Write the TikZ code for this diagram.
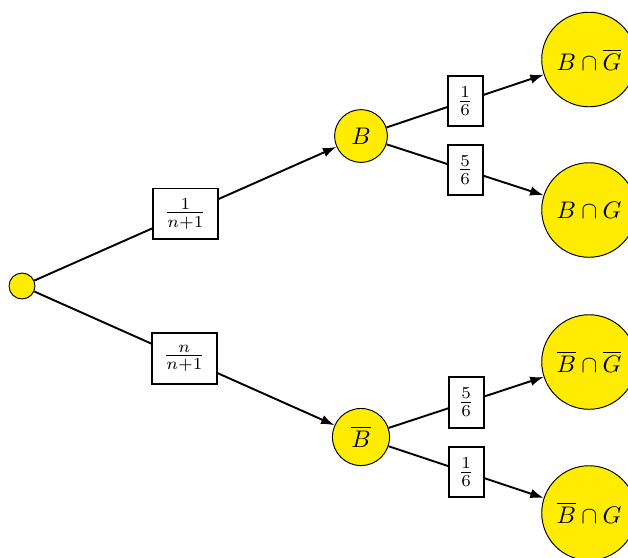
\documentclass[tikz,border=0pt]{standalone}
\usetikzlibrary{arrows.meta}
\definecolor{nodeyellow}{RGB}{255,236,0}
\begin{document}
\begin{tikzpicture}[x=0.4167pt,y=-0.4167pt,
  dot/.style={circle,draw,fill=nodeyellow,inner sep=0pt,minimum size=10.8pt},
  mid/.style={circle,draw,fill=nodeyellow,inner sep=0pt,minimum size=#1},
  leaf/.style={circle,draw,fill=nodeyellow,inner sep=0pt,minimum size=39.4pt},
  prob/.style={rectangle,draw,thick,fill=white,inner sep=0pt,minimum width=#1,minimum height=21pt},
  edge/.style={thick,-{Latex[length=5.6pt,width=4pt]}}]
\useasboundingbox (0,0) rectangle (628,557);
\node[dot] (r) at (22,286) {};
\node[mid=22pt] (b) at (361,136) {$B$};
\node[mid=23.8pt] (nb) at (361,437) {$\overline{B}$};
\node[leaf] (bng) at (589,59.5) {$B\cap\overline{G}$};
\node[leaf] (bg) at (589,210) {$B\cap G$};
\node[leaf] (nbng) at (589,362) {$\overline{B}\cap\overline{G}$};
\node[leaf] (nbg) at (589,513) {$\overline{B}\cap G$};
\draw[edge] (r) -- node[prob=27pt] (l1) {$\frac{1}{n+1}$} (b);
\draw[edge] (r) -- node[prob=27pt] (l2) {$\frac{n}{n+1}$} (nb);
\draw[edge] (b) -- node[prob=14.6pt] (l3) {$\frac{1}{6}$} (bng);
\draw[edge] (b) -- node[prob=14.6pt] (l4) {$\frac{5}{6}$} (bg);
\draw[edge] (nb) -- node[prob=14.6pt] (l5) {$\frac{5}{6}$} (nbng);
\draw[edge] (nb) -- node[prob=14.6pt] (l6) {$\frac{1}{6}$} (nbg);
\end{tikzpicture}
\end{document}
